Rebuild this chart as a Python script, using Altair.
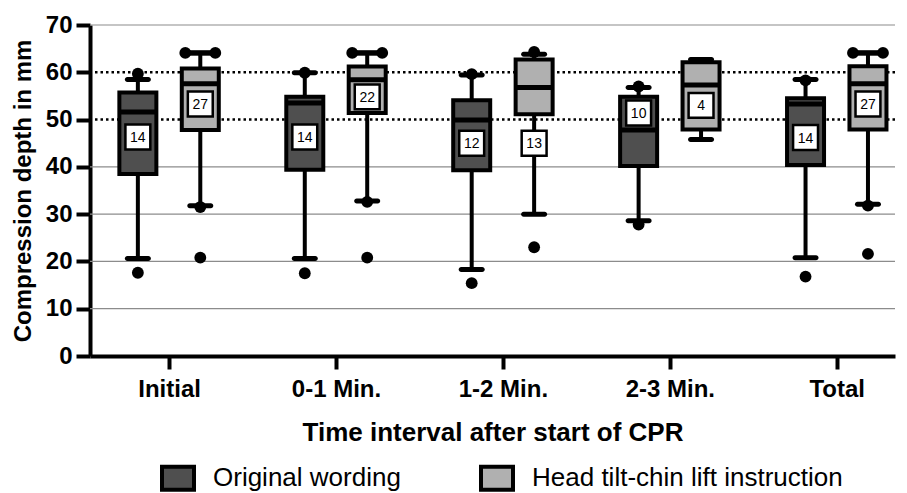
import json
import altair as alt
import pandas as pd

categories = ["Initial", "0-1 Min.", "1-2 Min.", "2-3 Min.", "Total"]
groups = ["Original wording", "Head tilt-chin lift instruction"]
group_colors = ["#4f4f4f", "#b0b0b0"]

orig_whisker_low = [20.6, 20.6, 18.3, 28.6, 20.8]
orig_q1 = [38.5, 39.4, 39.3, 40.2, 40.4]
orig_median = [51.6, 53.5, 49.9, 47.8, 53.3]
orig_q3 = [55.7, 54.8, 54.1, 54.8, 54.5]
orig_whisker_high = [58.5, 59.9, 59.4, 56.8, 58.5]
orig_n = [14, 14, 12, 10, 14]
orig_n_label_y = [46.3, 46.3, 45.0, 51.4, 46.2]

head_whisker_low = [31.8, 32.8, 30.0, 45.8, 32.1]
head_q1 = [47.8, 51.4, 51.1, 47.9, 47.9]
head_median = [57.6, 58.4, 56.8, 57.3, 57.6]
head_q3 = [60.8, 61.2, 62.7, 62.1, 61.3]
head_whisker_high = [64.1, 64.1, 63.8, 62.7, 64.1]
head_n = [27, 22, 13, 4, 27]
head_n_label_y = [53.3, 54.8, 45.0, 53.0, 53.3]

orig_points_cat = ["Initial", "Initial", "0-1 Min.", "0-1 Min.", "1-2 Min.", "1-2 Min.",
                   "2-3 Min.", "2-3 Min.", "Total", "Total"]
orig_points_val = [59.7, 17.6, 59.9, 17.5, 59.6, 15.4, 57.0, 27.8, 58.3, 16.8]
head_points_cat = ["Initial", "Initial", "0-1 Min.", "0-1 Min.", "1-2 Min.", "1-2 Min.",
                   "Total", "Total"]
head_points_val = [31.5, 20.8, 32.6, 20.8, 64.3, 23.0, 31.8, 21.6]
# tied maxima drawn side by side
head_pair_cat = ["Initial", "0-1 Min.", "Total"]
head_pair_val = [64.1, 64.1, 64.1]

target_lines = [50, 60]
grid_lines = [10, 20, 30, 40, 70]
y_ticks = [0, 10, 20, 30, 40, 50, 60, 70]

group_shift = {groups[0]: -0.187, groups[1]: 0.187}

rows = []
for g, lo, q1, med, q3, hi, n, ly in [
    (groups[0], orig_whisker_low, orig_q1, orig_median, orig_q3, orig_whisker_high, orig_n, orig_n_label_y),
    (groups[1], head_whisker_low, head_q1, head_median, head_q3, head_whisker_high, head_n, head_n_label_y),
]:
    for i, c in enumerate(categories):
        rows.append(dict(category=c, group=g, pos=i + group_shift[g], lo=lo[i], q1=q1[i],
                         med=med[i], q3=q3[i], hi=hi[i], n=str(n[i]), label_y=ly[i]))
boxes = pd.DataFrame(rows)

prow = []
for c, v in zip(orig_points_cat, orig_points_val):
    prow.append(dict(category=c, group=groups[0], pos=categories.index(c) + group_shift[groups[0]], value=v))
for c, v in zip(head_points_cat, head_points_val):
    prow.append(dict(category=c, group=groups[1], pos=categories.index(c) + group_shift[groups[1]], value=v))
points = pd.DataFrame(prow)
pairs = pd.DataFrame([dict(category=c, pos=categories.index(c) + group_shift[groups[1]], value=v)
                      for c, v in zip(head_pair_cat, head_pair_val)])

FONT = "Liberation Sans"
x_scale = alt.Scale(domain=[-0.4438, 4.319], nice=False, zero=False)
y_scale = alt.Scale(domain=[0, 70], nice=False)

label_expr = json.dumps(categories) + "[datum.value]"

X = alt.X("pos:Q", scale=x_scale,
          axis=alt.Axis(values=list(range(len(categories))), labelExpr=label_expr,
                        title="Time interval after start of CPR", grid=False))
Y_axis = alt.Axis(values=y_ticks, title="Compression depth in mm", grid=False)

grid = alt.Chart(pd.DataFrame({"v": grid_lines})).mark_rule(color="#8c8c8c", strokeWidth=1.2).encode(
    y=alt.Y("v:Q", scale=y_scale, axis=Y_axis))
targets = alt.Chart(pd.DataFrame({"v": target_lines})).mark_rule(
    color="black", strokeWidth=2.5, strokeDash=[2.5, 3]).encode(y=alt.Y("v:Q", scale=y_scale))

base = alt.Chart(boxes)
whisk = base.mark_rule(color="black", strokeWidth=4).encode(
    x=X, y=alt.Y("lo:Q", scale=y_scale), y2="hi:Q")
cap_lo = base.mark_tick(orient="horizontal", size=26, thickness=5, color="black", cornerRadius=2.5, opacity=1).encode(
    x=X, y=alt.Y("lo:Q", scale=y_scale))
cap_hi = base.mark_tick(orient="horizontal", size=26, thickness=5, color="black", cornerRadius=2.5, opacity=1).encode(
    x=X, y=alt.Y("hi:Q", scale=y_scale))
box = base.mark_bar(size=37, stroke="black", strokeWidth=4, opacity=1).encode(
    x=X, y=alt.Y("q1:Q", scale=y_scale), y2="q3:Q",
    color=alt.Color("group:N", scale=alt.Scale(domain=groups, range=group_colors),
                    legend=alt.Legend(title=None, orient="none", legendX=70, legendY=435,
                                      direction="horizontal",
                                      symbolType="M-1,-0.72H1V0.72H-1Z", symbolSize=1024,
                                      symbolStrokeWidth=4, symbolStrokeColor="black",
                                      symbolOpacity=1, labelLimit=500,
                                      labelFont=FONT, labelFontSize=26, labelColor="black",
                                      labelOffset=17, columnPadding=72)))
median = base.mark_tick(orient="horizontal", size=37, thickness=5, color="black", opacity=1).encode(
    x=X, y=alt.Y("med:Q", scale=y_scale))
nbox = base.mark_square(size=620, color="white", stroke="black", strokeWidth=2.5, opacity=1).encode(
    x=X, y=alt.Y("label_y:Q", scale=y_scale))
ntext = base.mark_text(font=FONT, fontSize=14, color="black", baseline="middle", dy=1).encode(
    x=X, y=alt.Y("label_y:Q", scale=y_scale), text="n:N")

dots = alt.Chart(points).mark_circle(size=140, color="black", opacity=1).encode(
    x=X, y=alt.Y("value:Q", scale=y_scale))
pair_l = alt.Chart(pairs).mark_circle(size=140, color="black", opacity=1, xOffset=-15).encode(
    x=X, y=alt.Y("value:Q", scale=y_scale))
pair_r = alt.Chart(pairs).mark_circle(size=140, color="black", opacity=1, xOffset=15).encode(
    x=X, y=alt.Y("value:Q", scale=y_scale))
pair_bar = alt.Chart(pairs).mark_tick(orient="horizontal", size=30, thickness=5, color="black", opacity=1).encode(
    x=X, y=alt.Y("value:Q", scale=y_scale))

chart = alt.layer(
    grid, targets, whisk, cap_lo, cap_hi, box, median, nbox, ntext, dots, pair_bar, pair_l, pair_r
).properties(
    width=805, height=331,
    autosize=alt.AutoSizeParams(type="none"),
    padding={"left": 82, "top": 17, "right": 4, "bottom": 145},
).configure_view(stroke=None).configure_axis(
    domainColor="black", domainWidth=4, tickColor="black", tickWidth=4,
    labelFont=FONT, labelFontSize=24, labelFontWeight="bold", labelColor="black",
    titleFont=FONT, titleFontSize=26, titleFontWeight="bold", titleColor="black",
).configure_axisY(
    tickSize=14, labelPadding=4, titleX=-55, titleFontSize=24,
).configure_axisX(
    tickSize=13, labelPadding=8, titlePadding=18,
)

chart.save("out.html", embed_options={"renderer": "svg", "actions": False})
